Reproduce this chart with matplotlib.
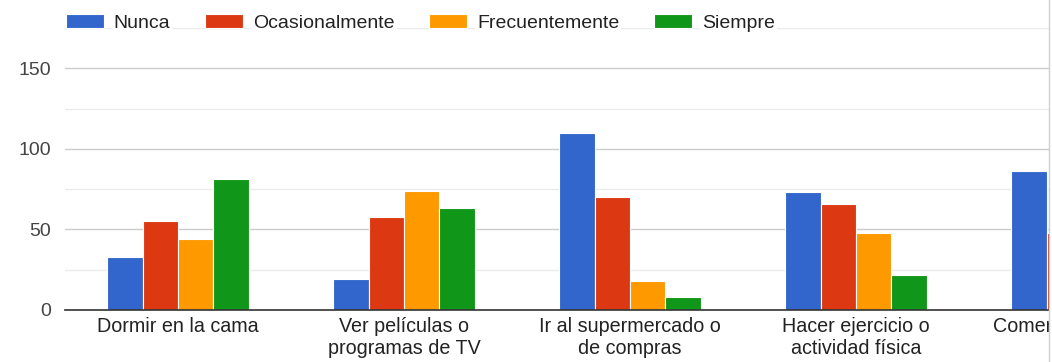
import numpy as np
import matplotlib
matplotlib.use("Agg")
from matplotlib import pyplot as plt
from matplotlib.lines import Line2D
from matplotlib.patches import Rectangle

plt.rcParams['font.family'] = ['Liberation Sans', 'DejaVu Sans']

# answers per activity
categorias = ['Dormir en la cama', 'Ver películas o\nprogramas de TV',
              'Ir al supermercado o\nde compras', 'Hacer ejercicio o\nactividad física',
              'Comer comida sana']
series = ['Nunca', 'Ocasionalmente', 'Frecuentemente', 'Siempre']
nunca = [33, 19, 110, 73, 86]
ocasionalmente = [55, 58, 70, 66, 48]
frecuentemente = [44, 74, 18, 48, 30]
siempre = [81, 63, 8, 22, 20]
yticks = [0, 50, 100, 150]

valores = [nunca, ocasionalmente, frecuentemente, siempre]
colores = ['#3366cc', '#dc3912', '#ff9900', '#109618']

W, H = 1052, 362
fig = plt.figure(figsize=(W / 100, H / 100), dpi=100)

# slot of 226 px per category, first slot starts at x=65
slot = 226
ax = fig.add_axes([65 / W, 52 / H, slot * len(categorias) / W, 282 / H])

x = np.arange(len(categorias))
bw = 0.156
for i, (nombre, vals, c) in enumerate(zip(series, valores, colores)):
    ax.bar(x + (i - 1.5) * bw, vals, bw, color=c, edgecolor='white',
           linewidth=0.8, label=nombre, zorder=3)

ax.set_xlim(-0.5, len(categorias) - 0.5)
ax.set_ylim(0, 175)
ax.set_yticks(yticks)
ax.set_yticks([25, 75, 125, 175], minor=True)
ax.yaxis.grid(True, which='major', color='#cccccc', linewidth=1, zorder=0)
ax.yaxis.grid(True, which='minor', color='#ebebeb', linewidth=1, zorder=0)
ax.tick_params(axis='y', which='both', length=0, pad=10, labelsize=14, labelcolor='#444444')
ax.set_xticks(x)
ax.set_xticklabels(categorias, fontsize=14.2, color='#222222', linespacing=1.2)
ax.tick_params(axis='x', length=0, pad=5)

for s in ['top', 'right', 'left']:
    ax.spines[s].set_visible(False)
ax.spines['bottom'].set_color('#333333')
ax.spines['bottom'].set_linewidth(1.2)
ax.spines['bottom'].set_zorder(4)

leg = fig.legend(loc='center left', bbox_to_anchor=(66 / W, 1 - 23 / H), ncol=4,
                 frameon=False, fontsize=14, handlelength=1.95, handleheight=0.75,
                 handletextpad=0.5, columnspacing=1.8, borderaxespad=0, borderpad=0)
for t in leg.get_texts():
    t.set_color('#222222')
    t.set_bbox(dict(facecolor='white', edgecolor='none', pad=1.5))

# panel ends at the right border
fig.add_artist(Rectangle((1049 / W, 0), 3 / W, 1, facecolor='white', edgecolor='none',
                         transform=fig.transFigure, zorder=10))
fig.add_artist(Line2D([1048.5 / W, 1048.5 / W], [0, 1], color='#d0d0d0', linewidth=1,
                      transform=fig.transFigure, zorder=11))

fig.savefig('out.png', dpi=100)
